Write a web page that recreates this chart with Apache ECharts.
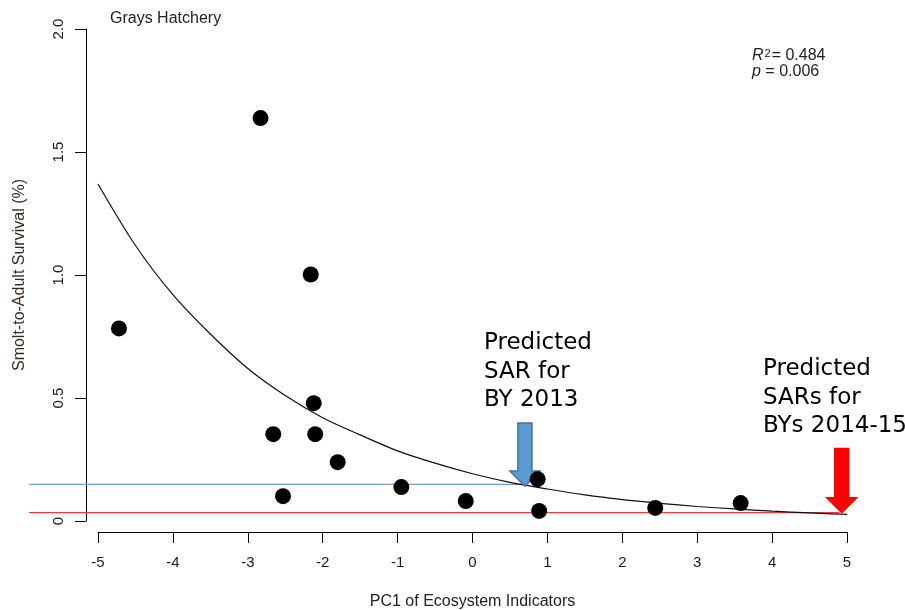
<!DOCTYPE html>
<html>
<head>
<meta charset="utf-8">
<script src="https://cdn.jsdelivr.net/npm/echarts@6/dist/echarts.min.js"></script>
<style>
html,body{margin:0;padding:0;background:#fff;}
#chart{width:905px;height:610px;}
</style>
</head>
<body>
<div id="chart"></div>
<script>
// Observed points: PC1 of ecosystem indicators vs SAR (%)
const pointsX = [-4.72, -2.83, -2.66, -2.53, -2.16, -2.12, -2.10, -1.80, -0.95, -0.09, 0.87, 0.89, 2.44, 3.58];
const pointsY = [0.783, 1.638, 0.353, 0.101, 1.002, 0.479, 0.353, 0.239, 0.138, 0.081, 0.170, 0.041, 0.053, 0.073];

// Fitted curve
const curveX = [-5, -4.5, -4, -3.5, -3, -2.5, -2, -1.5, -1, -0.5, 0, 0.5, 1, 1.5, 2, 2.5, 3, 3.5, 4, 4.5, 5];
const curveY = [1.37, 1.12, 0.92, 0.76, 0.62, 0.51, 0.42, 0.35, 0.285, 0.235, 0.192, 0.157, 0.13, 0.106, 0.087, 0.072, 0.059, 0.049, 0.040, 0.033, 0.027];

// Predicted SAR reference lines [xStart, xEnd, y]
const blueLine = [-5.92, 0.70, 0.149];
const redLine = [-5.92, 4.90, 0.034];

// Arrows [x, yTop, yTip]
const blueArrow = [0.70, 0.398, 0.142];
const redArrow = [4.93, 0.295, 0.034];

const xTicks = [-5, -4, -3, -2, -1, 0, 1, 2, 3, 4, 5];
const yTickLabels = {0: '0', 0.5: '0.5', 1: '1.0', 1.5: '1.5', 2: '2.0'};

const chart = echarts.init(document.getElementById('chart'));

function arrowItem(fill, stroke) {
  return function (params, api) {
    const top = api.coord([api.value(0), api.value(1)]);
    const tip = api.coord([api.value(0), api.value(2)]);
    const shaftHalf = 7, headHalf = 15, headLen = 15;
    const cx = tip[0];
    const base = tip[1] - headLen;
    return {
      type: 'polygon',
      shape: {
        points: [
          [cx - shaftHalf, top[1]], [cx + shaftHalf, top[1]],
          [cx + shaftHalf, base], [cx + headHalf, base],
          [cx, tip[1]], [cx - headHalf, base],
          [cx - shaftHalf, base]
        ]
      },
      style: {fill: fill, stroke: stroke, lineWidth: 1.5}
    };
  };
}

function hLineItem(color) {
  return function (params, api) {
    const a = api.coord([api.value(0), api.value(2)]);
    const b = api.coord([api.value(1), api.value(2)]);
    return {
      type: 'line',
      shape: {x1: a[0], y1: a[1], x2: b[0], y2: b[1]},
      style: {stroke: color, lineWidth: 1.2}
    };
  };
}

const annFont = '"Comic Sans MS", "DejaVu Sans", sans-serif';
const baseFont = 'Liberation Sans, Arial, sans-serif';

chart.setOption({
  animation: false,
  backgroundColor: '#fff',
  grid: {left: 98, right: 58, top: 29, bottom: 89, containLabel: false, outerBoundsMode: 'none'},
  xAxis: {
    type: 'value', min: -5, max: 5, interval: 1, offset: 11,
    axisLine: {show: true, onZero: false, lineStyle: {color: '#000', width: 1}},
    axisTick: {show: true, length: 11, lineStyle: {color: '#000'}},
    splitLine: {show: false},
    axisLabel: {color: '#1a1a1a', fontSize: 15, margin: 23, fontFamily: baseFont,
      formatter: v => xTicks.includes(v) ? String(v) : ''},
    name: 'PC1 of Ecosystem Indicators', nameLocation: 'middle', nameGap: 62,
    nameTextStyle: {color: '#222', fontSize: 16, fontFamily: baseFont}
  },
  yAxis: {
    type: 'value', min: 0, max: 2, interval: 0.5, offset: 12,
    axisLine: {show: true, onZero: false, lineStyle: {color: '#000', width: 1}},
    axisTick: {show: true, length: 11, lineStyle: {color: '#000'}},
    splitLine: {show: false},
    axisLabel: {color: '#1a1a1a', fontSize: 15, margin: 20, rotate: 90, fontFamily: baseFont,
      formatter: v => yTickLabels[v] !== undefined ? yTickLabels[v] : ''},
    name: 'Smolt-to-Adult Survival (%)', nameLocation: 'middle', nameGap: 58,
    nameTextStyle: {color: '#3a2a20', fontSize: 16, fontFamily: baseFont}
  },
  series: [
    {
      type: 'custom', renderItem: hLineItem('#6f9fd0'),
      data: [blueLine], clip: false, silent: true, z: 1
    },
    {
      type: 'custom', renderItem: hLineItem('#f03a3a'),
      data: [redLine], clip: false, silent: true, z: 1
    },
    {
      type: 'line', data: curveX.map((x, i) => [x, curveY[i]]),
      showSymbol: false, smooth: 0.3, silent: true,
      lineStyle: {color: '#111', width: 1.2}, z: 2
    },
    {
      type: 'scatter', data: pointsX.map((x, i) => [x, pointsY[i]]),
      symbolSize: 16, itemStyle: {color: '#000', opacity: 1}, z: 4
    },
    {
      type: 'custom', renderItem: arrowItem('#5b9bd5', '#41719c'),
      data: [blueArrow], z: 3, silent: true
    },
    {
      type: 'custom', renderItem: arrowItem('#ff0000', '#ff0000'),
      data: [redArrow], z: 3, silent: true
    }
  ],
  graphic: [
    {type: 'text', left: 110, top: 11, style: {text: 'Grays Hatchery', fontSize: 16, fill: '#222', fontFamily: baseFont}},
    {type: 'text', left: 752, top: 48, style: {
      rich: {
        i: {fontStyle: 'italic', fontSize: 16, fill: '#222', fontFamily: baseFont},
        s: {fontSize: 11, fill: '#222', verticalAlign: 'top', padding: [0, 1, 9, 1], fontFamily: baseFont},
        n: {fontSize: 16, fill: '#222', fontFamily: baseFont}
      },
      text: '{i|R}{s|2}{n|= 0.484}\n{i|p}{n| = 0.006}', lineHeight: 16
    }},
    {type: 'text', left: 484, top: 329, style: {text: 'Predicted\nSAR for\nBY 2013', fontSize: 23, lineHeight: 28.5, fill: '#000', fontFamily: annFont}},
    {type: 'text', left: 763, top: 355, style: {text: 'Predicted\nSARs for\nBYs 2014-15', fontSize: 23, lineHeight: 28.5, fill: '#000', fontFamily: annFont}}
  ]
});
</script>
</body>
</html>
